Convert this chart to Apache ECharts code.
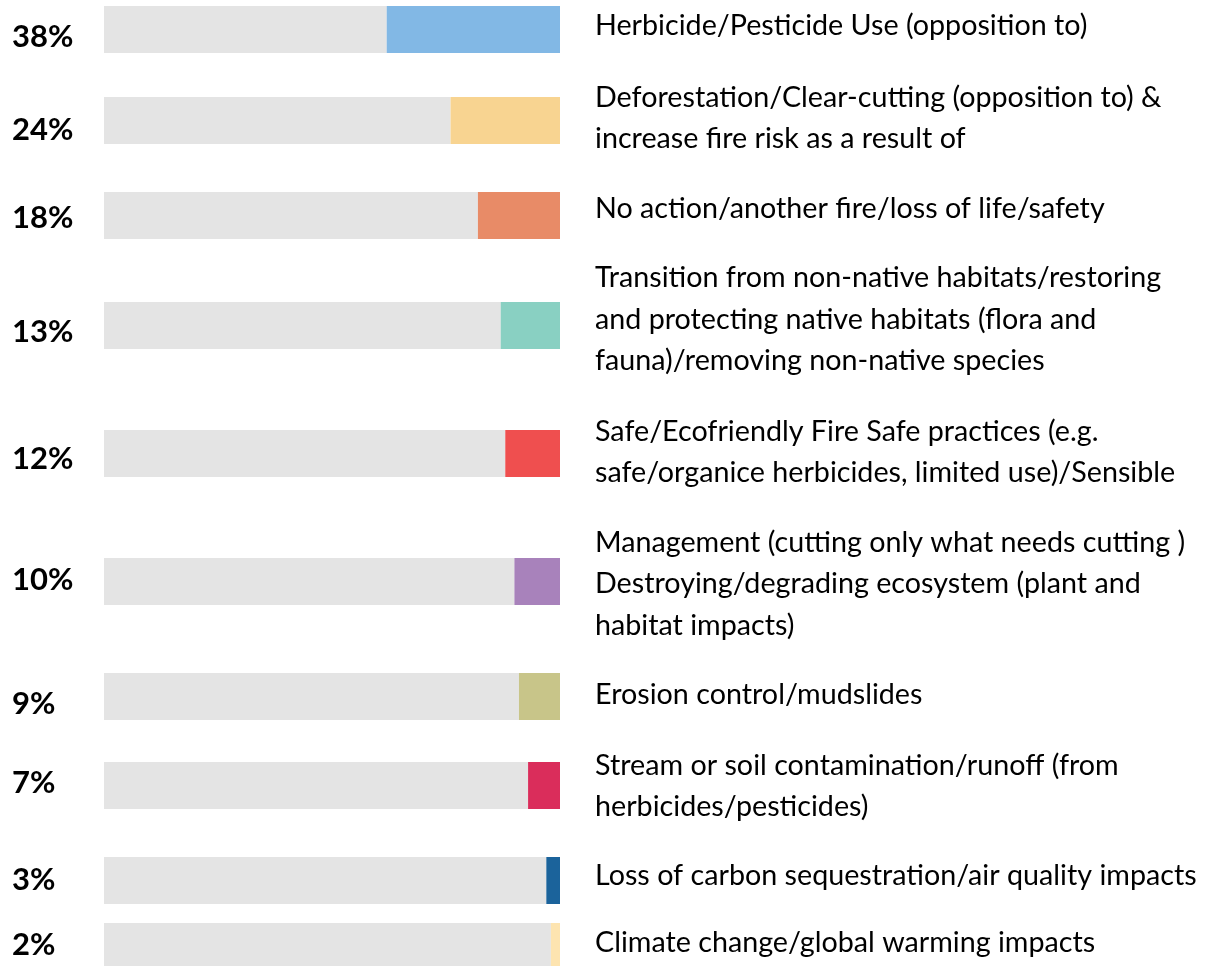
<!DOCTYPE html>
<html>
<head>
<meta charset="utf-8">
<title>Comment themes</title>
<script src="https://cdn.jsdelivr.net/npm/echarts@6/dist/echarts.min.js"></script>
<style>
  html, body { margin: 0; padding: 0; background: #ffffff; }
  #chart { width: 1207px; height: 966px; }
</style>
</head>
<body>
<div id="chart"></div>
<script>
// Comment themes and the share of comments mentioning each one
const themes = [
  'Herbicide/Pesticide Use (opposition to)',
  'Deforestation/Clear-cutting (opposition to) &\nincrease fire risk as a result of',
  'No action/another fire/loss of life/safety',
  'Transition from non-native habitats/restoring\nand protecting native habitats (flora and\nfauna)/removing non-native species',
  'Safe/Ecofriendly Fire Safe practices (e.g.\nsafe/organice herbicides, limited use)/Sensible',
  'Management (cutting only what needs cutting )\nDestroying/degrading ecosystem (plant and\nhabitat impacts)',
  'Erosion control/mudslides',
  'Stream or soil contamination/runoff (from\nherbicides/pesticides)',
  'Loss of carbon sequestration/air quality impacts',
  'Climate change/global warming impacts'
];
const shares = [38, 24, 18, 13, 12, 10, 9, 7, 3, 2];
const themeColors = ['#82b8e5', '#f8d491', '#e88b67', '#89d0c2', '#ef4f4f',
                     '#a882bb', '#c8c589', '#da2d5b', '#1b639b', '#fde4b0'];

// Layout: each theme sits in its own strip
const rowTops = [6, 97, 192, 302, 430, 558, 673, 762, 857, 923];
const barLeft = 104, barWidth = 456, barHeight = 47;
const pctLeft = 12, textGap = 35;
// small vertical nudges for the two label columns
const pctNudge = [7, 9, 2.5, 6.5, 5, -1.5, 7, -2.5, -1, 0];
const textNudge = [-3.5, -2.5, -7, -6, -1.5, 2.5, -2, 0.5, -5, -1.5];
const trackColor = '#e4e4e4';

const grids = [], xAxes = [], yAxes = [], series = [];
shares.forEach((v, i) => {
  grids.push({ left: barLeft, width: barWidth, top: rowTops[i], height: barHeight });
  xAxes.push({ gridIndex: i, type: 'value', min: 0, max: 100, show: false });
  yAxes.push({ gridIndex: i, type: 'category', data: [themes[i]], show: false });

  // grey track: the part of 100% not taken by the theme
  series.push({
    type: 'bar', xAxisIndex: i, yAxisIndex: i, stack: 'row' + i,
    data: [100 - v], barWidth: '100%', silent: true,
    itemStyle: { color: trackColor },
    label: {
      show: true,
      position: [pctLeft - barLeft, '50%'],
      align: 'left', verticalAlign: 'middle',
      offset: [0, pctNudge[i]],
      formatter: () => v + '%',
      color: '#000', fontFamily: 'Lato', fontWeight: 'bold', fontSize: 31
    }
  });
  // coloured share at the right end of the track
  series.push({
    type: 'bar', xAxisIndex: i, yAxisIndex: i, stack: 'row' + i,
    data: [v], barWidth: '100%', silent: true,
    itemStyle: { color: themeColors[i] },
    label: {
      show: true, position: 'right', distance: textGap,
      align: 'left', verticalAlign: 'middle',
      offset: [0, textNudge[i]],
      formatter: () => themes[i],
      color: '#000', fontFamily: 'Lato', fontSize: 28.7, lineHeight: 41.5
    }
  });
});

const chart = echarts.init(document.getElementById('chart'));
chart.setOption({
  animation: false,
  backgroundColor: '#ffffff',
  grid: grids,
  xAxis: xAxes,
  yAxis: yAxes,
  series: series
});
</script>
</body>
</html>
